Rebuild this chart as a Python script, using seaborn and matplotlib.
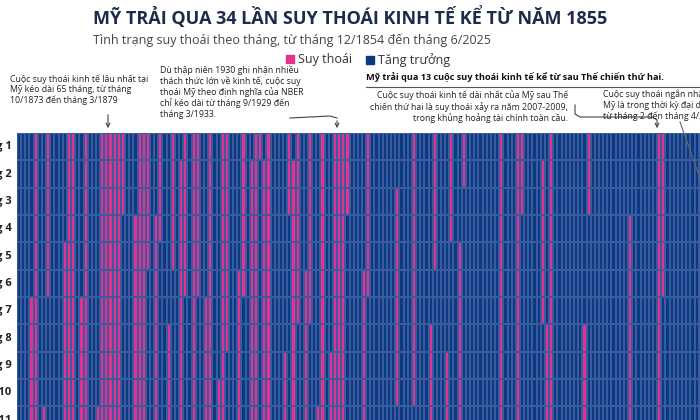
import numpy as np
import pandas as pd
import matplotlib
matplotlib.use("Agg")
import matplotlib.pyplot as plt
from matplotlib.colors import ListedColormap
import seaborn as sns

plt.rcParams["font.family"] = "Open Sans"

# NBER peaks and troughs (year, month)
peaks = [(1857,6),(1860,10),(1865,4),(1869,6),(1873,10),(1882,3),(1887,3),(1890,7),
         (1893,1),(1895,12),(1899,6),(1902,9),(1907,5),(1910,1),(1913,1),(1918,8),
         (1920,1),(1923,5),(1926,10),(1929,8),(1937,5),(1945,2),(1948,11),(1953,7),
         (1957,8),(1960,4),(1969,12),(1973,11),(1980,1),(1981,7),(1990,7),(2001,3),
         (2007,12),(2020,2)]
troughs = [(1858,12),(1861,6),(1867,12),(1870,12),(1879,3),(1885,5),(1888,4),(1891,5),
           (1894,6),(1897,6),(1900,12),(1904,8),(1908,6),(1912,1),(1914,12),(1919,3),
           (1921,7),(1924,7),(1927,11),(1933,3),(1938,6),(1945,10),(1949,10),(1954,5),
           (1958,4),(1961,2),(1970,11),(1975,3),(1980,7),(1982,11),(1991,3),(2001,11),
           (2009,6),(2020,4)]
years = list(range(1854, 2026))
month_labels = [f"Tháng {m}" for m in range(1, 13)]

grid = np.zeros((12, len(years)))
for (py, pm), (ty, tm) in zip(peaks, troughs):
    start = py * 12 + pm
    end = ty * 12 + tm - 1
    for k in range(start, end + 1):
        y, m = divmod(k, 12)
        grid[m, y - 1854] = 1
df = pd.DataFrame(grid, index=month_labels, columns=years)

NAVY = "#0b3a82"
PINK = "#e8308f"

fig = plt.figure(figsize=(7, 4.2), dpi=100)
ax = fig.add_axes([17/700, 1 - 461/420, 715/700, 328/420])
sns.heatmap(df, ax=ax, cmap=ListedColormap([NAVY, PINK]), cbar=False,
            linewidths=0.12, linecolor="#3a5c9e", vmin=0, vmax=1)
ax.set_xticks([])
ax.set_xlabel("")
ax.set_yticks(np.arange(12) + 0.5)
ax.set_yticklabels(month_labels, fontsize=8, fontweight="bold", color="#222222")
ax.tick_params(axis="y", length=0, pad=4)

def T(x, y, s, **kw):
    fig.text(x/700, 1 - y/420, s, **kw)

T(350, 17, "MỸ TRẢI QUA 34 LẦN SUY THOÁI KINH TẾ KỂ TỪ NĂM 1855", ha="center", va="center",
  fontsize=13, fontweight="bold", color="#1c2b4a")
T(93, 40, "Tình trạng suy thoái theo tháng, từ tháng 12/1854 đến tháng 6/2025", ha="left",
  va="center", fontsize=9, color="#444444")
fig.patches.append(plt.Rectangle((286/700, 1-63/420), 8/700, 8/420, transform=fig.transFigure, color=PINK))
T(298, 59, "Suy thoái", ha="left", va="center", fontsize=9, color="#333333")
fig.patches.append(plt.Rectangle((366/700, 1-64/420), 8/700, 8/420, transform=fig.transFigure, color=NAVY))
T(378, 60, "Tăng trưởng", ha="left", va="center", fontsize=9, color="#333333")

FS = 6.3
T(10, 90, "Cuộc suy thoái kinh tế lâu nhất tại\nMỹ kéo dài 65 tháng, từ tháng\n10/1873 đến tháng 3/1879",
  ha="left", va="center", fontsize=FS, color="#222222", linespacing=1.2)
T(160, 92, "Dù thập niên 1930 ghi nhận nhiều\nthách thức lớn về kinh tế, cuộc suy\nthoái Mỹ theo định nghĩa của NBER\nchỉ kéo dài từ tháng 9/1929 đến\ntháng 3/1933.",
  ha="left", va="center", fontsize=FS, color="#222222", linespacing=1.2)
T(366, 78, "Mỹ trải qua 13 cuộc suy thoái kinh tế kể từ sau Thế chiến thứ hai.", ha="left",
  va="center", fontsize=6.6, fontweight="bold", color="#111111")
T(568, 107, "Cuộc suy thoái kinh tế dài nhất của Mỹ sau Thế\nchiến thứ hai là suy thoái xảy ra năm 2007-2009,\ntrong khủng hoảng tài chính toàn cầu.",
  ha="right", va="center", fontsize=FS, color="#222222", linespacing=1.2)
T(603, 105, "Cuộc suy thoái ngắn nhất của\nMỹ là trong thời kỳ đại dịch\ntừ tháng 2 đến tháng 4/2020.",
  ha="left", va="center", fontsize=FS, color="#222222", linespacing=1.2)

def P(x, y):
    return (x/700, 1 - y/420)

from matplotlib.lines import Line2D
from matplotlib.patches import FancyArrowPatch
fig.lines.append(Line2D([366/700, 1], [1-87/420]*2, transform=fig.transFigure, color="#555555", lw=0.8))
for a, b in [((108, 112), (108, 131)), ((337, 118), (337, 131)), ((657, 118), (657, 131))]:
    fig.patches.append(FancyArrowPatch(P(*a), P(*b), transform=fig.transFigure,
                                       arrowstyle="->", mutation_scale=7, color="#444444", lw=0.8))
fig.lines.append(Line2D([290/700, 330/700, 337/700], [1-118/420, 1-116/420, 1-118/420],
                        transform=fig.transFigure, color="#444444", lw=0.8))
fig.lines.append(Line2D([575/700, 575/700, 580/700, 652/700, 657/700], [1-105/420, 1-114/420, 1-117/420, 1-117/420, 1-120/420],
                        transform=fig.transFigure, color="#444444", lw=0.8))
fig.lines.append(Line2D([680/700, 700/700], [1-122/420, 1-178/420],
                        transform=fig.transFigure, color="#666666", lw=0.8))

fig.savefig("out.png", dpi=100)
